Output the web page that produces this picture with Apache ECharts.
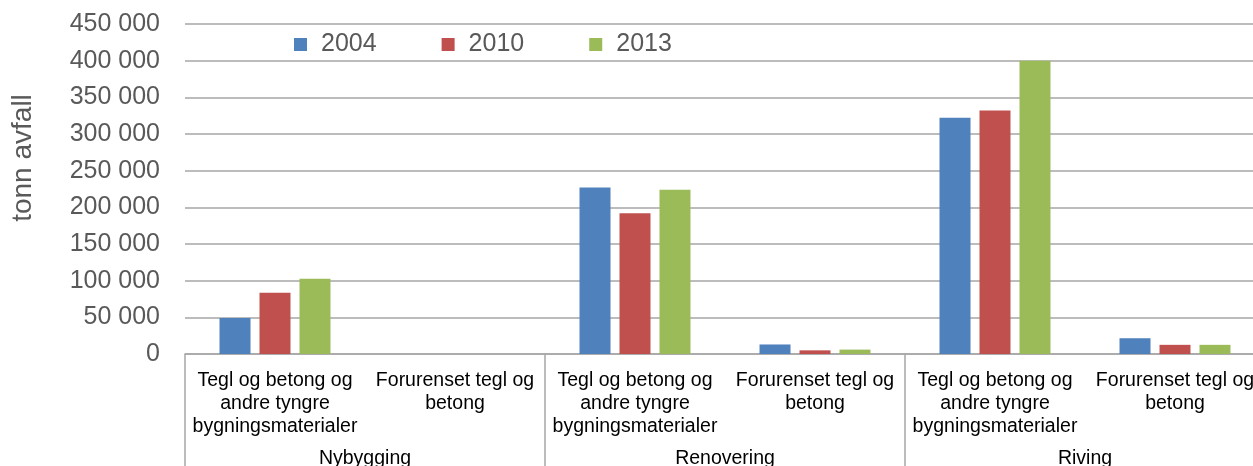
<!DOCTYPE html>
<html>
<head>
<meta charset="utf-8">
<script src="https://cdn.jsdelivr.net/npm/echarts@6/dist/echarts.min.js"></script>
<style>
html,body{margin:0;padding:0;background:#fff;overflow:hidden;}
#c{width:1253px;height:466px;}
</style>
</head>
<body>
<div id="c"></div>
<script>
const groups = ['Nybygging', 'Renovering', 'Riving'];
const subCategories = [
  'Tegl og betong og\nandre tyngre\nbygningsmaterialer', 'Forurenset tegl og\nbetong',
  'Tegl og betong og\nandre tyngre\nbygningsmaterialer', 'Forurenset tegl og\nbetong',
  'Tegl og betong og\nandre tyngre\nbygningsmaterialer', 'Forurenset tegl og\nbetong'
];
const seriesNames = ['2004', '2010', '2013'];
const values2004 = [49000, 0, 227000, 13000, 322000, 21500];
const values2010 = [83500, 0, 192000, 5000, 332000, 12500];
const values2013 = [102500, 0, 224000, 6000, 400000, 12500];
const yTicks = { min: 0, max: 450000, interval: 50000 };
const yAxisTitle = 'tonn avfall';

const colors = ['#4F81BD', '#C0504D', '#9BBB59'];
const font = '"Liberation Sans", Arial, sans-serif';
const seriesValues = [values2004, values2010, values2013];

const chart = echarts.init(document.getElementById('c'), null, {renderer: 'canvas'});
chart.setOption({
  animation: false,
  backgroundColor: '#ffffff',
  textStyle: { fontFamily: font },
  grid: { left: 185, top: 24, height: 330, width: 1080, containLabel: false, outerBoundsMode: 'none' },
  legend: {
    data: seriesNames,
    left: 294,
    top: 32,
    padding: 0,
    icon: 'rect',
    itemWidth: 13,
    itemHeight: 13,
    itemGap: 65,
    textStyle: { fontSize: 25, color: '#595959', fontFamily: font, padding: [0, 0, 0, 9] }
  },
  xAxis: [
    {
      type: 'category',
      data: subCategories,
      position: 'bottom',
      axisLine: { show: true, lineStyle: { color: '#a6a6a6', width: 1.5 } },
      axisTick: { show: false },
      axisLabel: {
        interval: 0,
        fontSize: 19.5,
        lineHeight: 23,
        color: '#000000',
        fontFamily: font,
        margin: 15,
        align: 'center'
      },
      splitLine: { show: false }
    },
    {
      type: 'category',
      data: groups,
      position: 'bottom',
      axisLine: { show: false },
      axisTick: { show: true, interval: 0, length: 112, lineStyle: { color: '#a6a6a6', width: 1.5 } },
      axisLabel: {
        interval: 0,
        fontSize: 19.5,
        lineHeight: 23,
        color: '#000000',
        fontFamily: font,
        margin: 93
      },
      splitLine: { show: false }
    }
  ],
  yAxis: {
    type: 'value',
    min: yTicks.min,
    max: yTicks.max,
    interval: yTicks.interval,
    name: yAxisTitle,
    nameLocation: 'middle',
    nameRotate: 90,
    nameGap: 148,
    nameTextStyle: { fontSize: 28, color: '#595959', fontFamily: font, padding: [0, 0, 0, 62] },
    axisLine: { show: false },
    axisTick: { show: false },
    axisLabel: {
      fontSize: 25,
      color: '#595959',
      fontFamily: font,
      margin: 25,
      formatter: v => String(v).replace(/\B(?=(\d{3})+(?!\d))/g, ' ')
    },
    splitLine: { show: true, lineStyle: { color: '#a6a6a6', width: 1.5 } }
  },
  series: seriesNames.map((n, i) => ({
    name: n,
    type: 'bar',
    xAxisIndex: 0,
    data: seriesValues[i],
    barWidth: 31,
    barGap: '29%',
    itemStyle: { color: colors[i] }
  }))
});
</script>
</body>
</html>
